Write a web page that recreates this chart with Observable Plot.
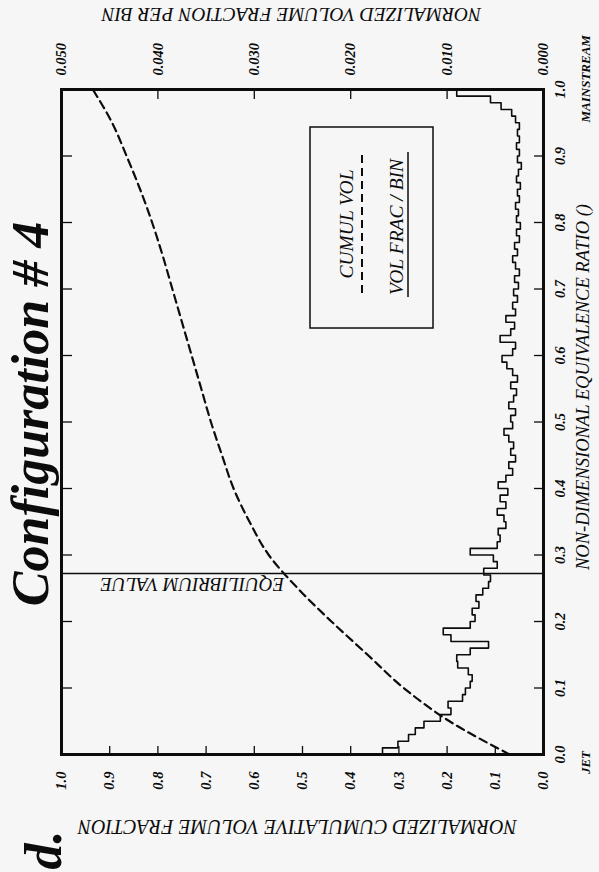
<!DOCTYPE html>
<html><head><meta charset="utf-8">
<script src="https://cdn.jsdelivr.net/npm/d3@7"></script>
<script src="https://cdn.jsdelivr.net/npm/@observablehq/plot@0.6"></script>
<style>
html,body{margin:0;padding:0;background:#f6f6f6;}
body{width:599px;height:872px;overflow:hidden;position:relative;}
#page{position:absolute;left:0;top:0;width:872px;height:599px;transform-origin:0 0;transform:translate(0px,872px) rotate(-90deg);}
</style></head><body><div id="page"></div>
<script>
// ---- data ----
const titleText = "Configuration # 4";
const panelLabel = "d.";
const eqTicks = [0.0,0.1,0.2,0.3,0.4,0.5,0.6,0.7,0.8,0.9,1.0];
const cumTicks = [0.0,0.1,0.2,0.3,0.4,0.5,0.6,0.7,0.8,0.9,1.0];
const binTicks = [0.000,0.010,0.020,0.030,0.040,0.050];
const binMax = 0.05;
const binWidth = 0.01;
// normalized volume fraction per bin (bins of 0.01 in equivalence ratio)
const binValues = [
 0.0167,0.0151,0.0140,0.0133,0.0124,0.0107,0.0096,0.0099,0.0084,0.0081,
 0.0076,0.0074,0.0078,0.0089,0.0090,0.0076,0.0057,0.0096,0.0104,0.0076,
 0.0071,0.0074,0.0067,0.0070,0.0063,0.0057,0.0055,0.0062,0.0048,0.0052,
 0.0076,0.0048,0.0045,0.0047,0.0039,0.0041,0.0048,0.0039,0.0045,0.0037,
 0.0047,0.0039,0.0032,0.0036,0.0029,0.0034,0.0031,0.0036,0.0041,0.0032,
 0.0034,0.0029,0.0036,0.0031,0.0028,0.0034,0.0027,0.0032,0.0038,0.0043,
 0.0032,0.0029,0.0045,0.0034,0.0030,0.0039,0.0029,0.0032,0.0027,0.0031,
 0.0026,0.0030,0.0025,0.0029,0.0032,0.0027,0.0030,0.0025,0.0028,0.0024,
 0.0028,0.0026,0.0029,0.0025,0.0027,0.0024,0.0028,0.0026,0.0023,0.0027,
 0.0025,0.0028,0.0025,0.0027,0.0025,0.0029,0.0033,0.0044,0.0055,0.0090
];
// normalized cumulative volume fraction
const cumEq = [0,0.05,0.1,0.15,0.2,0.25,0.3,0.35,0.4,0.45,0.5,0.55,0.6,0.65,0.7,0.75,0.8,0.85,0.9,0.95,1.0];
const cumValues = [0.07,0.195,0.29,0.365,0.44,0.51,0.57,0.61,0.643,0.667,0.69,0.71,0.73,0.75,0.77,0.79,0.812,0.837,0.865,0.895,0.935];
const equilibrium = [0.272];
const legendLabels = ["CUMUL VOL", "VOL FRAC / BIN"];

// ---- build ----
const ink = "#0c0c0c";
const FONT = "'Liberation Serif', 'Times New Roman', serif";
const W = 872, H = 599;
const mL = 117, mR = 90, mT = 61, mB = 56;
const fw = W - mL - mR, fh = H - mT - mB;

const hist = binValues.map((v, i) => ({x: i * binWidth, y: v / binMax}));
hist.push({x: binValues.length * binWidth, y: binValues[binValues.length - 1] / binMax});
const cum = cumEq.map((e, i) => ({x: e, y: cumValues[i]}));
const binTicksScaled = binTicks.map(v => v / binMax);

const chart = Plot.plot({
  width: W, height: H,
  marginLeft: mL, marginRight: mR, marginTop: mT, marginBottom: mB,
  style: {fontFamily: FONT, fontStyle: "italic", fontSize: "15px", color: ink, background: "transparent", overflow: "visible"},
  x: {domain: [0, 1], label: null},
  y: {domain: [0, 1], label: null},
  marks: [
    // inward tick marks
    Plot.tickY(cumTicks, {y: d => d, insetRight: fw - 9, stroke: ink, strokeWidth: 1.3}),
    Plot.tickY(binTicksScaled, {y: d => d, insetLeft: fw - 9, stroke: ink, strokeWidth: 1.3}),
    Plot.tickX(eqTicks, {x: d => d, insetTop: fh - 9, stroke: ink, strokeWidth: 1.3}),
    Plot.tickX(eqTicks, {x: d => d, insetBottom: fh - 11, stroke: ink, strokeWidth: 1.3}),
    // tick labels
    Plot.axisY(cumTicks, {anchor: "left", tickSize: 0, tickPadding: 17, tickFormat: d => d.toFixed(1), label: null, fontSize: 14.5, fontWeight: "bold"}),
    Plot.axisY(binTicksScaled, {anchor: "right", tickSize: 0, tickPadding: 14, tickFormat: d => (d * binMax).toFixed(3), label: null, fontSize: 14.5, fontWeight: "bold"}),
    Plot.axisX(eqTicks, {anchor: "bottom", tickSize: 0, tickPadding: 11, tickFormat: d => d.toFixed(1), label: null, fontSize: 14.5, fontWeight: "bold"}),
    // data
    Plot.line(hist, {x: "x", y: "y", curve: "step-after", stroke: ink, strokeWidth: 1.6}),
    Plot.line(cum, {x: "x", y: "y", curve: "monotone-x", stroke: ink, strokeWidth: 2.2, strokeDasharray: "8,5"}),
    Plot.ruleX(equilibrium, {x: d => d, stroke: ink, strokeWidth: 1.5}),
    Plot.text(equilibrium, {x: d => d, text: () => "EQUILIBRIUM VALUE", frameAnchor: "top", rotate: -90, textAnchor: "end", lineAnchor: "bottom", dx: -4, dy: 39, fontSize: 19, fill: ink}),
    Plot.frame({stroke: ink, strokeWidth: 3}),
    // titles
    Plot.text(["NORMALIZED CUMULATIVE VOLUME FRACTION"], {frameAnchor: "left", rotate: -90, textAnchor: "middle", lineAnchor: "bottom", dx: -65, dy: -5, fontSize: 20, fill: ink}),
    Plot.text(["NORMALIZED VOLUME FRACTION PER BIN"], {frameAnchor: "right", rotate: -90, textAnchor: "middle", lineAnchor: "bottom", dx: 82, dy: -11, fontSize: 19.5, fill: ink}),
    Plot.text(["NON-DIMENSIONAL EQUIVALENCE RATIO ()"], {frameAnchor: "bottom", textAnchor: "middle", lineAnchor: "bottom", dx: 35, dy: 45, fontSize: 18.5, fill: ink}),
    Plot.text(["JET"], {frameAnchor: "bottom-left", textAnchor: "middle", lineAnchor: "bottom", dx: -8, dy: 46, fontSize: 13, fontWeight: "bold", fill: ink}),
    Plot.text(["MAINSTREAM"], {frameAnchor: "bottom-right", textAnchor: "start", lineAnchor: "bottom", dx: -33, dy: 46, fontSize: 13, fontWeight: "bold", fill: ink}),
    Plot.text([titleText], {frameAnchor: "top", textAnchor: "middle", lineAnchor: "bottom", dx: 8, dy: -14, fontSize: 52, fontWeight: "bold", fill: ink}),
    Plot.text([panelLabel], {frameAnchor: "top-left", textAnchor: "start", lineAnchor: "bottom", dx: -115, dy: -1, fontSize: 52, fontWeight: "bold", fill: ink})
  ]
});

const svgEl = chart.tagName.toLowerCase() === "svg" ? chart : chart.querySelector("svg");
document.getElementById("page").appendChild(chart);

// legend box
const lg = d3.select(svgEl).append("g").attr("transform", "translate(544,310)")
  .attr("font-family", FONT).attr("font-style", "italic").attr("fill", ink);
lg.append("rect").attr("width", 201).attr("height", 123).attr("fill", "none").attr("stroke", ink).attr("stroke-width", 1.5);
lg.append("text").attr("x", 104).attr("y", 43).attr("text-anchor", "middle").attr("font-size", 19.5).text(legendLabels[0]);
lg.append("line").attr("x1", 35).attr("x2", 178).attr("y1", 52).attr("y2", 52).attr("stroke", ink).attr("stroke-width", 2).attr("stroke-dasharray", "8,5");
lg.append("text").attr("x", 101).attr("y", 93).attr("text-anchor", "middle").attr("font-size", 19.5).text(legendLabels[1]);
lg.append("line").attr("x1", 31).attr("x2", 176).attr("y1", 98).attr("y2", 98).attr("stroke", ink).attr("stroke-width", 1.5);
</script>
</body></html>
